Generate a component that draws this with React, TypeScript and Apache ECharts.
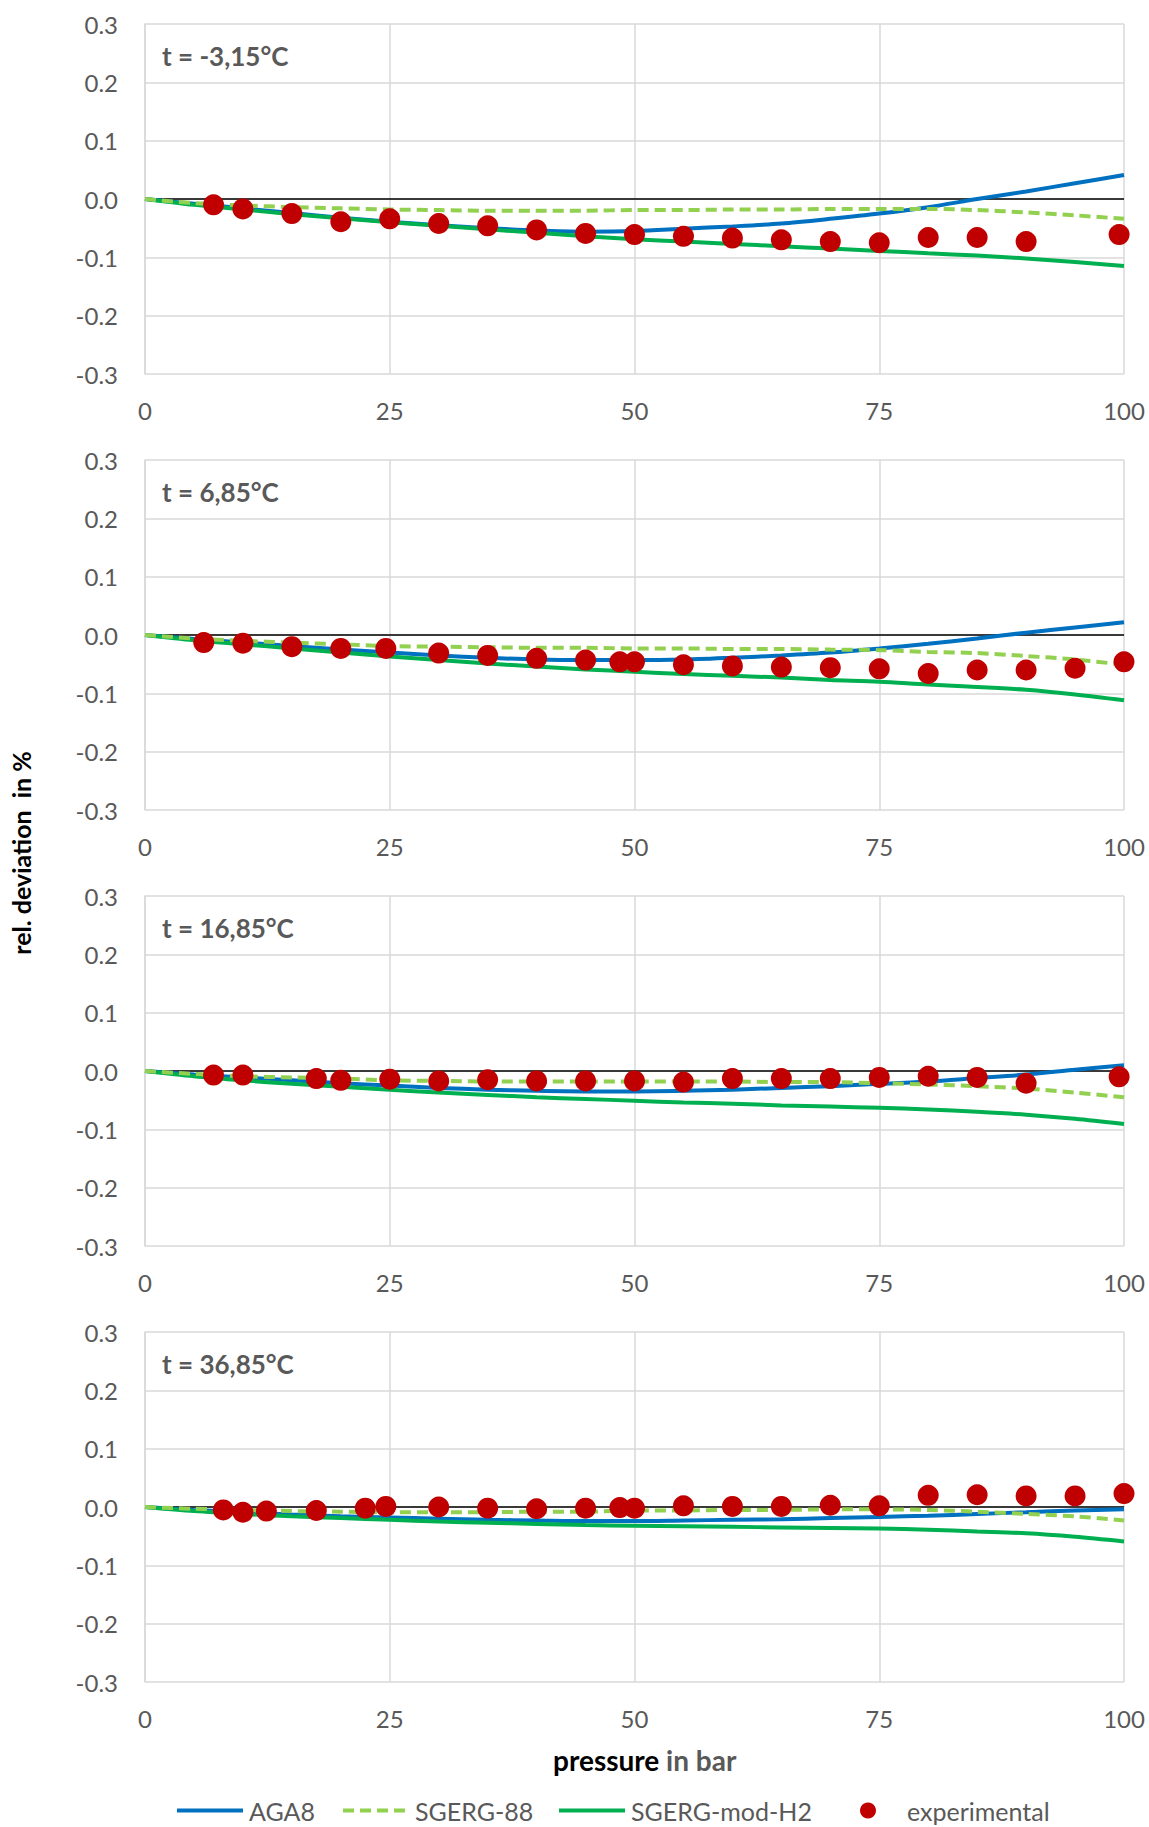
import React, { useEffect, useRef } from "react";
import * as echarts from "echarts";

// ---------------- data ----------------
const PANEL_TITLES = ["t = -3,15°C", "t = 6,85°C", "t = 16,85°C", "t = 36,85°C"];
const LEGEND_NAMES = ["AGA8", "SGERG-88", "SGERG-mod-H2", "experimental"];
const X_TICKS = [0, 25, 50, 75, 100];
const Y_TICKS = [-0.3, -0.2, -0.1, 0.0, 0.1, 0.2, 0.3];

// pressure grid of model curves (bar)
const P_MODEL = [0, 5, 10, 15, 20, 25, 30, 35, 40, 45, 50, 55, 60, 65, 70, 75, 80, 85, 90, 95, 100];

// panel 1: t = -3,15 °C
const AGA8_1 = [0, -0.008, -0.016, -0.024, -0.032, -0.039, -0.045, -0.05, -0.054, -0.056, -0.055, -0.051, -0.047, -0.042, -0.034, -0.025, -0.014, 0.0, 0.013, 0.027, 0.041];
const SGERG88_1 = [0, -0.007, -0.011, -0.014, -0.016, -0.018, -0.019, -0.02, -0.02, -0.02, -0.019, -0.019, -0.018, -0.018, -0.017, -0.017, -0.017, -0.019, -0.023, -0.028, -0.034];
const MODH2_1 = [0, -0.01, -0.018, -0.026, -0.033, -0.04, -0.046, -0.052, -0.058, -0.064, -0.069, -0.073, -0.077, -0.081, -0.085, -0.089, -0.093, -0.097, -0.102, -0.108, -0.115];
const EXP_P_1 = [7, 10, 15, 20, 25, 30, 35, 40, 45, 50, 55, 60, 65, 70, 75, 80, 85, 90, 99.5];
const EXP_V_1 = [-0.01, -0.017, -0.025, -0.039, -0.034, -0.042, -0.046, -0.053, -0.059, -0.061, -0.064, -0.067, -0.07, -0.073, -0.075, -0.066, -0.066, -0.073, -0.061];

// panel 2: t = 6,85 °C
const AGA8_2 = [0, -0.007, -0.013, -0.019, -0.025, -0.03, -0.035, -0.039, -0.042, -0.043, -0.043, -0.042, -0.039, -0.035, -0.03, -0.023, -0.015, -0.006, 0.004, 0.013, 0.022];
const SGERG88_2 = [0, -0.006, -0.01, -0.013, -0.016, -0.019, -0.02, -0.021, -0.022, -0.022, -0.023, -0.023, -0.024, -0.024, -0.025, -0.026, -0.029, -0.031, -0.036, -0.042, -0.051];
const MODH2_2 = [0, -0.009, -0.016, -0.023, -0.03, -0.037, -0.043, -0.049, -0.054, -0.059, -0.063, -0.067, -0.07, -0.073, -0.077, -0.08, -0.085, -0.089, -0.094, -0.102, -0.112];
const EXP_P_2 = [6, 10, 15, 20, 24.6, 30, 35, 40, 45, 48.5, 50, 55, 60, 65, 70, 75, 80, 85, 90, 95, 100];
const EXP_V_2 = [-0.013, -0.014, -0.02, -0.023, -0.023, -0.031, -0.035, -0.04, -0.043, -0.046, -0.046, -0.051, -0.053, -0.055, -0.056, -0.058, -0.066, -0.06, -0.06, -0.057, -0.046];

// panel 3: t = 16,85 °C
const AGA8_3 = [0, -0.006, -0.011, -0.016, -0.021, -0.025, -0.029, -0.032, -0.034, -0.035, -0.035, -0.034, -0.032, -0.029, -0.026, -0.022, -0.018, -0.012, -0.006, 0.002, 0.01];
const SGERG88_3 = [0, -0.005, -0.009, -0.011, -0.013, -0.016, -0.017, -0.018, -0.018, -0.018, -0.018, -0.018, -0.018, -0.019, -0.019, -0.021, -0.023, -0.026, -0.03, -0.037, -0.045];
const MODH2_3 = [0, -0.009, -0.016, -0.022, -0.027, -0.032, -0.037, -0.041, -0.045, -0.048, -0.051, -0.054, -0.056, -0.059, -0.061, -0.063, -0.066, -0.07, -0.075, -0.082, -0.091];
const EXP_P_3 = [7, 10, 17.5, 20, 25, 30, 35, 40, 45, 50, 55, 60, 65, 70, 75, 80, 85, 90, 99.5];
const EXP_V_3 = [-0.007, -0.007, -0.013, -0.016, -0.014, -0.017, -0.015, -0.017, -0.017, -0.017, -0.019, -0.013, -0.013, -0.013, -0.011, -0.009, -0.011, -0.021, -0.01];

// panel 4: t = 36,85 °C
const AGA8_4 = [0, -0.005, -0.009, -0.013, -0.016, -0.018, -0.02, -0.022, -0.023, -0.024, -0.024, -0.023, -0.022, -0.021, -0.019, -0.017, -0.015, -0.012, -0.009, -0.006, -0.004];
const SGERG88_4 = [0, -0.003, -0.005, -0.007, -0.008, -0.009, -0.009, -0.009, -0.008, -0.008, -0.006, -0.006, -0.005, -0.005, -0.004, -0.004, -0.005, -0.008, -0.012, -0.016, -0.023];
const MODH2_4 = [0, -0.007, -0.012, -0.016, -0.019, -0.022, -0.025, -0.027, -0.029, -0.031, -0.032, -0.033, -0.034, -0.035, -0.036, -0.037, -0.039, -0.042, -0.045, -0.051, -0.059];
const EXP_P_4 = [8, 10, 12.4, 17.5, 22.5, 24.6, 30, 35, 40, 45, 48.5, 50, 55, 60, 65, 70, 75, 80, 85, 90, 95, 100];
const EXP_V_4 = [-0.005, -0.009, -0.007, -0.006, -0.002, 0.001, 0.0, -0.002, -0.003, -0.002, -0.001, -0.002, 0.002, 0.001, 0.001, 0.003, 0.002, 0.02, 0.021, 0.019, 0.019, 0.023];

const AGA8 = [AGA8_1, AGA8_2, AGA8_3, AGA8_4];
const SGERG88 = [SGERG88_1, SGERG88_2, SGERG88_3, SGERG88_4];
const MODH2 = [MODH2_1, MODH2_2, MODH2_3, MODH2_4];
const EXP_P = [EXP_P_1, EXP_P_2, EXP_P_3, EXP_P_4];
const EXP_V = [EXP_V_1, EXP_V_2, EXP_V_3, EXP_V_4];

// ---------------- layout / style ----------------
const W = 1149;
const H = 1827;
const FONT = "Lato";
const GRID_LEFT = 145;
const GRID_RIGHT = 25;
const GRID_TOPS = [24, 460, 896, 1332];
const GRID_H = 350;
const GRAY = "#595959";
const GRIDLINE = "#D9D9D9";
const C_AGA8 = "#0070C0";
const C_SGERG = "#92D050";
const C_MOD = "#00B050";
const C_EXP = "#C00000";
const LINE_W = 4;
const LEGEND_LEFTS = [175, 341, 557, 860];
const LEGEND_TOP = 1798;

const pairs = (xs: number[], ys: number[]) => xs.map((x, i) => [x, ys[i]]);

function buildOption() {
  const grids: any[] = [];
  const xAxes: any[] = [];
  const yAxes: any[] = [];
  const series: any[] = [];
  const graphics: any[] = [];

  GRID_TOPS.forEach((top, i) => {
    grids.push({ left: GRID_LEFT, right: GRID_RIGHT, top, height: GRID_H, containLabel: false });
    xAxes.push({
      type: "value",
      gridIndex: i,
      min: X_TICKS[0],
      max: X_TICKS[X_TICKS.length - 1],
      interval: X_TICKS[1] - X_TICKS[0],
      axisLine: { show: false, onZero: false },
      axisTick: { show: false },
      axisLabel: { color: GRAY, fontSize: 24, fontFamily: FONT, margin: 24 },
      splitLine: { show: true, lineStyle: { color: GRIDLINE, width: 1.5 } },
    });
    yAxes.push({
      type: "value",
      gridIndex: i,
      min: Y_TICKS[0],
      max: Y_TICKS[Y_TICKS.length - 1],
      interval: 0.1,
      axisLine: { show: true, lineStyle: { color: GRIDLINE, width: 1.5 } },
      axisTick: { show: false },
      axisLabel: {
        color: GRAY,
        fontSize: 24,
        fontFamily: FONT,
        margin: 27,
        formatter: (v: number) => (Math.abs(v) < 1e-9 ? "0.0" : v.toFixed(1)),
      },
      splitLine: { show: true, lineStyle: { color: GRIDLINE, width: 1.5 } },
    });

    series.push({
      name: "zero",
      type: "line",
      xAxisIndex: i,
      yAxisIndex: i,
      data: [[X_TICKS[0], 0], [X_TICKS[X_TICKS.length - 1], 0]],
      symbol: "none",
      silent: true,
      lineStyle: { color: "#000000", width: 1.5 },
      z: 1,
    });
    series.push({
      name: "AGA8",
      type: "line",
      xAxisIndex: i,
      yAxisIndex: i,
      data: pairs(P_MODEL, AGA8[i]),
      symbol: "none",
      smooth: 0.3,
      lineStyle: { color: C_AGA8, width: LINE_W },
      itemStyle: { color: C_AGA8 },
      z: 2,
    });
    series.push({
      name: "SGERG-mod-H2",
      type: "line",
      xAxisIndex: i,
      yAxisIndex: i,
      data: pairs(P_MODEL, MODH2[i]),
      symbol: "none",
      smooth: 0.3,
      lineStyle: { color: C_MOD, width: LINE_W },
      itemStyle: { color: C_MOD },
      z: 2,
    });
    series.push({
      name: "SGERG-88",
      type: "line",
      xAxisIndex: i,
      yAxisIndex: i,
      data: pairs(P_MODEL, SGERG88[i]),
      symbol: "none",
      smooth: 0.3,
      lineStyle: { color: C_SGERG, width: LINE_W, type: [11, 6] },
      itemStyle: { color: C_SGERG },
      z: 3,
    });
    series.push({
      name: "experimental",
      type: "scatter",
      xAxisIndex: i,
      yAxisIndex: i,
      data: pairs(EXP_P[i], EXP_V[i]),
      symbol: "circle",
      symbolSize: 21,
      itemStyle: { color: C_EXP, opacity: 1 },
      z: 4,
    });

    graphics.push({
      type: "text",
      x: 162,
      y: top + 32,
      style: {
        text: PANEL_TITLES[i],
        fill: GRAY,
        font: `bold 26px ${FONT}`,
        textVerticalAlign: "middle",
      },
    });
  });

  graphics.push({
    type: "text",
    x: 21,
    y: 853,
    rotation: Math.PI / 2,
    style: {
      text: "rel. deviation  in %",
      fill: "#000000",
      font: `bold 25px ${FONT}`,
      textAlign: "center",
      textVerticalAlign: "middle",
    },
  });
  graphics.push({
    type: "text",
    x: 553,
    y: 1760,
    style: {
      text: "{a|pressure }{b|in bar}",
      textVerticalAlign: "middle",
      rich: {
        a: { fill: "#000000", font: `bold 28px ${FONT}` },
        b: { fill: GRAY, font: `bold 28px ${FONT}` },
      },
    },
  });

  const legends = LEGEND_NAMES.map((name, k) => ({
    data: [k < 3 ? { name, itemStyle: { opacity: 0 } } : { name }],
    left: LEGEND_LEFTS[k],
    top: LEGEND_TOP,
    padding: 0,
    itemWidth: 66,
    itemHeight: 16,
    selectedMode: false,
    lineStyle: { width: LINE_W },
    textStyle: { color: GRAY, fontSize: 25, fontFamily: FONT, padding: [0, 0, 0, 1] },
  }));

  return {
    animation: false,
    backgroundColor: "#ffffff",
    textStyle: { fontFamily: FONT },
    grid: grids,
    xAxis: xAxes,
    yAxis: yAxes,
    series,
    legend: legends,
    graphic: graphics,
  };
}

export default function App() {
  const ref = useRef<HTMLDivElement>(null);
  useEffect(() => {
    document.body.style.margin = "0";
    if (!ref.current) return;
    const chart = echarts.init(ref.current, undefined, { renderer: "svg" });
    chart.setOption(buildOption() as any);
    return () => chart.dispose();
  }, []);
  return <div ref={ref} style={{ width: W, height: H }} />;
}
